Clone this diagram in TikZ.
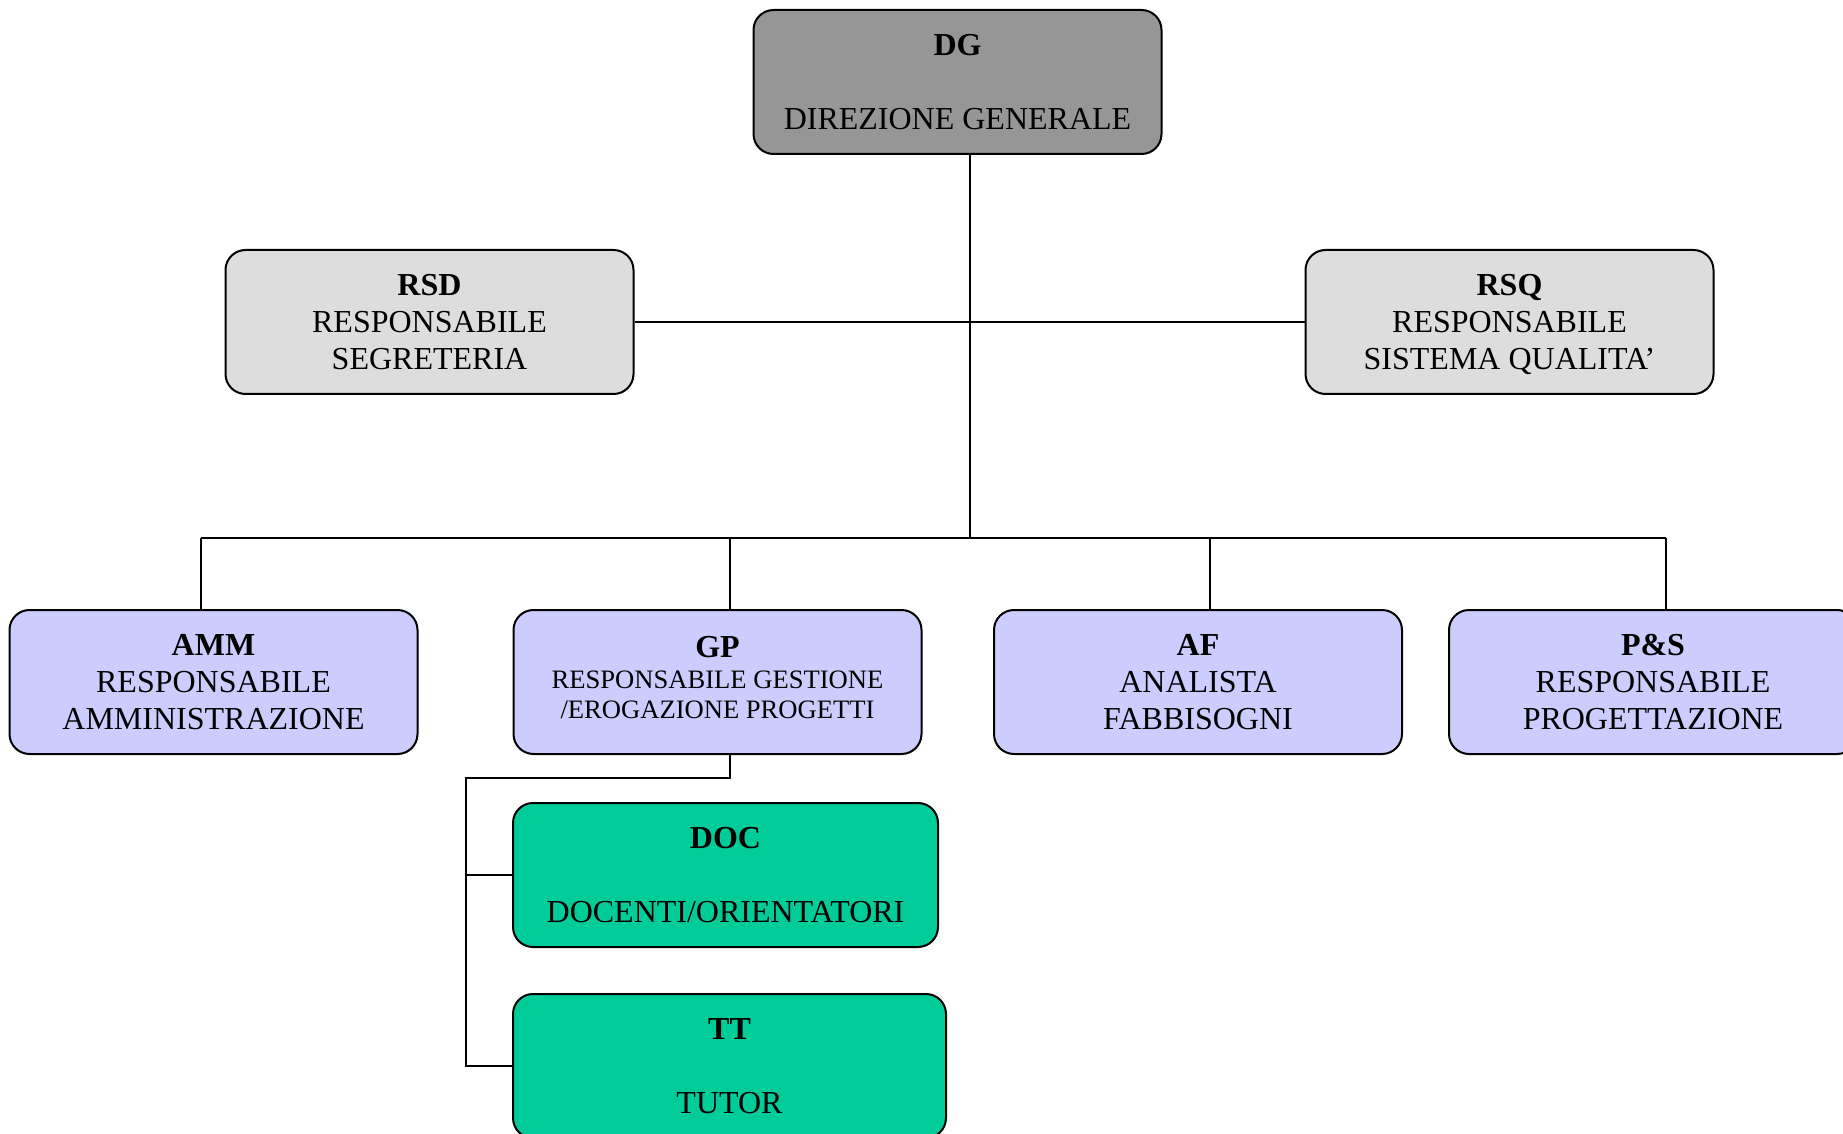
\documentclass[tikz,border=0pt]{standalone}
\usepackage{fontspec}
\setmainfont{Liberation Serif}
\usepackage{tikz}
\usetikzlibrary{shapes,arrows,positioning}
\definecolor{dggray}{RGB}{150,150,150}
\definecolor{staffgray}{RGB}{221,221,221}
\definecolor{unitblue}{RGB}{204,204,255}
\definecolor{opgreen}{RGB}{0,204,153}
\tikzset{
  ufficio/.style={draw=black, line width=1pt, rounded corners=10pt, align=center,
    minimum width=204pt, minimum height=72pt, inner sep=2pt,
    font=\fontsize{16}{18.4}\selectfont},
  linea/.style={draw=black, line width=1pt}
}
\begin{document}
\begin{tikzpicture}[x=0.5pt, y=-0.5pt]
\clip (0,0) rectangle (1843,1134);
\node (DG) at (957.5,82) [ufficio, fill=dggray] {\textbf{DG}\\[18.4pt]DIREZIONE GENERALE};
\node (RSD) at (429.5,322) [ufficio, fill=staffgray] {\textbf{RSD}\\RESPONSABILE\\SEGRETERIA};
\node (RSQ) at (1509.5,322) [ufficio, fill=staffgray] {\textbf{RSQ}\\RESPONSABILE\\\raisebox{0pt}[\height][0pt]{SISTEMA QUALITA’}};
\node (AMM) at (213.5,682) [ufficio, fill=unitblue] {\textbf{AMM}\\RESPONSABILE\\AMMINISTRAZIONE};
\node (GP) at (717.5,682) [ufficio, fill=unitblue, font=\fontsize{13.3}{15.3}\selectfont] {{\fontsize{16}{18.4}\selectfont\textbf{GP}}\\[0pt]RESPONSABILE GESTIONE\\\raisebox{0pt}[\height][4.4pt]{/EROGAZIONE PROGETTI}};
\node (AF) at (1198,682) [ufficio, fill=unitblue] {\textbf{AF}\\ANALISTA\\FABBISOGNI};
\node (PS) at (1653,682) [ufficio, fill=unitblue] {\textbf{P\&S}\\RESPONSABILE\\PROGETTAZIONE};
\node (DOC) at (725.5,875) [ufficio, fill=opgreen, minimum width=212.5pt] {\textbf{DOC}\\[18.4pt]DOCENTI/ORIENTATORI};
\node (TT) at (729.5,1066) [ufficio, fill=opgreen, minimum width=216.5pt] {\textbf{TT}\\[18.4pt]TUTOR};
\coordinate (bus) at (970,538);
\coordinate (b1) at (201,538);
\coordinate (b2) at (730,538);
\coordinate (b3) at (1210,538);
\coordinate (b4) at (1666,538);
\coordinate (k) at (466,778);
\draw[linea] (DG.south -| bus) -- (bus);
\draw[linea] (RSD.east) -- (RSQ.west);
\draw[linea] (b1) -- (b4);
\draw[linea] (b1) -- (b1 |- AMM.north);
\draw[linea] (b2) -- (b2 |- GP.north);
\draw[linea] (b3) -- (b3 |- AF.north);
\draw[linea] (b4) -- (b4 |- PS.north);
\draw[linea] (b2 |- GP.south) -- (b2 |- k) -- (k) |- (TT.west);
\draw[linea] (k |- DOC.west) -- (DOC.west);
\end{tikzpicture}
\end{document}
